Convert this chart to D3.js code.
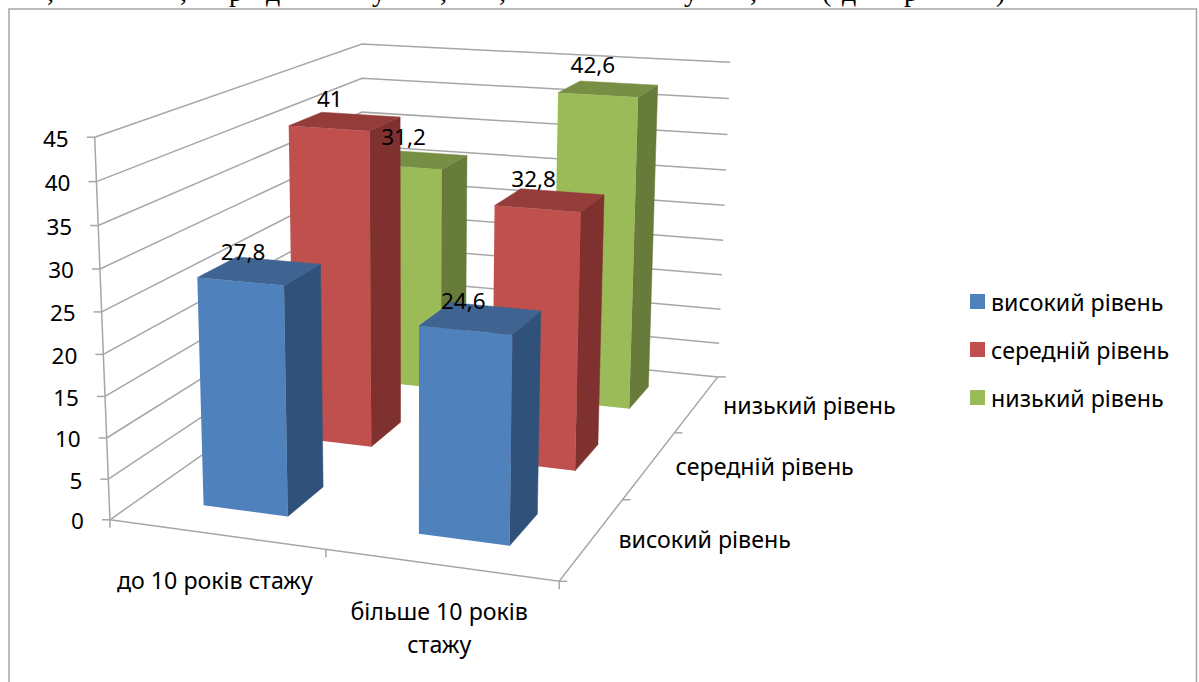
<!DOCTYPE html>
<html>
<head>
<meta charset="utf-8">
<script src="https://cdn.jsdelivr.net/npm/d3@7"></script>
<style>
    html, body { margin: 0; padding: 0; background: #fff; overflow: hidden; }
    text { font-family: "Noto Sans", sans-serif; font-size: 23.2px; fill: #000; }
    text.num { font-size: 22.5px; }
    text.doc-line { font-family: "Liberation Serif", serif; font-size: 28px; }
</style>
</head>
<body>
<svg id="chart" width="1199" height="682"></svg>
<script>
const categories = ['до 10 років стажу', 'більше 10 років стажу'];
const seriesNames = ['високий рівень', 'середній рівень', 'низький рівень'];
const highValues = [27.8, 24.6];
const middleValues = [41, 32.8];
const lowValues = [31.2, 42.6];
const valueTicks = [0, 5, 10, 15, 20, 25, 30, 35, 40, 45];

const seriesValues = [highValues, middleValues, lowValues];
const frontColors = ['#4f81bd', '#c0504d', '#9bbb59'];
const sideColors = ['#30527a', '#7f3130', '#677b3a'];
const topColors = ['#3f6491', '#933c3a', '#778f45'];

// only the feet of the line of document text above the chart are visible
const docLineGlyphs = ',,рду,,у,(др)';
const docLineX = [47, 180, 229, 266, 372, 440, 499, 684, 750, 822, 842, 904, 996];

// calibration points: [x, z, value 0-1] -> [px, py]
const calibration = [
    // box corners
    [[0, 0, 0], [110, 519.5]],
    [[1, 0, 0], [558.5, 581.5]],
    [[1, 1, 0], [718, 377]],
    [[0, 0, 1], [94.5, 137]],
    [[0, 1, 1], [361.6, 44]],
    [[1, 1, 1], [731, 62.7]],
    // bar corners
    [[0.15, 0.1, 0], [203.6, 505.7]],
    [[0.35, 0.1, 0], [288, 516.7]],
    [[0.65, 0.1, 0], [419, 534.3]],
    [[0.85, 0.1, 0], [510, 546]],
    [[0.35, 0.4333, 0], [371, 446.7]],
    [[0.85, 0.4333, 0], [575, 470.7]],
    [[0.85, 0.7667, 0], [629, 408]],
    [[0.15, 0.1, 27.8 / 45], [198, 278]],
    [[0.35, 0.1, 27.8 / 45], [284, 285.7]],
    [[0.65, 0.1, 24.6 / 45], [419, 326]],
    [[0.85, 0.1, 24.6 / 45], [512, 334]],
    [[0.15, 0.4333, 41 / 45], [289, 125.7]],
    [[0.35, 0.4333, 41 / 45], [369, 130.7]],
    [[0.65, 0.4333, 32.8 / 45], [495, 205]],
    [[0.85, 0.4333, 32.8 / 45], [581, 211.7]],
    [[0.65, 0.7667, 42.6 / 45], [558, 93]],
    [[0.85, 0.7667, 42.6 / 45], [637.5, 97.7]]
];

// least squares fit of the camera matrix
function solveCamera(points) {
    const rows = [], rhs = [];
    points.forEach(([[x, z, v], [px, py]]) => {
        rows.push([x, z, v, 1, 0, 0, 0, 0, -px * x, -px * z, -px * v]);
        rhs.push(px);
        rows.push([0, 0, 0, 0, x, z, v, 1, -py * x, -py * z, -py * v]);
        rhs.push(py);
    });
    const n = 11;
    const m = d3.range(n).map(i => d3.range(n + 1).map(j =>
        d3.sum(rows, (r, k) => r[i] * (j < n ? r[j] : rhs[k]))));
    for (let i = 0; i < n; i++) {
        let best = i;
        for (let k = i + 1; k < n; k++) if (Math.abs(m[k][i]) > Math.abs(m[best][i])) best = k;
        [m[i], m[best]] = [m[best], m[i]];
        for (let k = 0; k < n; k++) {
            if (k === i) continue;
            const f = m[k][i] / m[i][i];
            for (let j = i; j <= n; j++) m[k][j] -= f * m[i][j];
        }
    }
    return m.map((row, i) => row[n] / row[i]);
}

const cam = solveCamera(calibration);

function project(x, z, v) {
    const w = cam[8] * x + cam[9] * z + cam[10] * v + 1;
    return [
        (cam[0] * x + cam[1] * z + cam[2] * v + cam[3]) / w,
        (cam[4] * x + cam[5] * z + cam[6] * v + cam[7]) / w
    ];
}

const xScale = d3.scaleBand().domain(categories).range([0, 1]).paddingInner(0.6).paddingOuter(0.3);
const zScale = d3.scaleBand().domain(seriesNames).range([0, 1]).paddingInner(0.6).paddingOuter(0.3);
const vScale = d3.scaleLinear().domain([0, 45]).range([0, 1]);

const line = d3.line();
const closed = pts => line(pts) + 'Z';

const svg = d3.select('#chart');

svg.append('text')
    .attr('class', 'doc-line')
    .attr('x', docLineX.join(' '))
    .attr('y', 1)
    .text(docLineGlyphs);

// outer chart frame, runs off the bottom of the picture
svg.append('path')
    .attr('d', line([[9, 690], [9, 9], [1196.5, 9], [1196.5, 690]]))
    .attr('fill', '#fff')
    .attr('stroke', '#a6a6a6')
    .attr('stroke-width', 1.5);

const gridColor = '#a6a6a6';
const axisG = svg.append('g').attr('fill', 'none').attr('stroke', gridColor).attr('stroke-width', 1.5);

// gridlines along the left and back walls
axisG.selectAll('.grid')
    .data(valueTicks)
    .join('path')
    .attr('class', 'grid')
    .attr('d', d => line([project(0, 0, vScale(d)), project(0, 1, vScale(d)), project(1, 1, vScale(d))]));

// axis lines
axisG.append('path').attr('d', line([project(0, 0, 0), project(0, 0, 1)]));
axisG.append('path').attr('d', line([project(0, 0, 0), project(1, 0, 0), project(1, 1, 0)]));

// value ticks
axisG.selectAll('.vtick')
    .data(valueTicks)
    .join('path')
    .attr('class', 'vtick')
    .attr('d', d => {
        const p = project(0, 0, vScale(d));
        return line([p, [p[0] - 8, p[1]]]);
    });

// category ticks
axisG.selectAll('.xtick')
    .data([0, 0.5, 1])
    .join('path')
    .attr('class', 'xtick')
    .attr('d', d => {
        const p = project(d, 0, 0);
        return line([p, [p[0], p[1] + 8]]);
    });

// depth ticks
axisG.selectAll('.ztick')
    .data([0, 1 / 3, 2 / 3, 1])
    .join('path')
    .attr('class', 'ztick')
    .attr('d', d => {
        const p = project(1, d, 0);
        return line([p, [p[0] + 8, p[1]]]);
    });

// bars, back row first so the front ones cover them
const bars = [];
seriesNames.forEach((s, si) => {
    categories.forEach((c, ci) => {
        bars.push({ series: s, si, category: c, value: seriesValues[si][ci] });
    });
});
bars.sort((a, b) => b.si - a.si);

const barG = svg.selectAll('.bar')
    .data(bars)
    .join('g')
    .attr('class', 'bar');

function box(d) {
    const x0 = xScale(d.category), x1 = x0 + xScale.bandwidth();
    const z0 = zScale(d.series), z1 = z0 + zScale.bandwidth();
    return { x0, x1, z0, z1, v: vScale(d.value) };
}

barG.append('path')
    .attr('fill', d => sideColors[d.si])
    .attr('stroke', d => sideColors[d.si])
    .attr('stroke-width', 0.5)
    .attr('d', d => {
        const b = box(d);
        return closed([project(b.x1, b.z0, 0), project(b.x1, b.z1, 0), project(b.x1, b.z1, b.v), project(b.x1, b.z0, b.v)]);
    });

barG.append('path')
    .attr('fill', d => topColors[d.si])
    .attr('stroke', d => topColors[d.si])
    .attr('stroke-width', 0.5)
    .attr('d', d => {
        const b = box(d);
        return closed([project(b.x0, b.z0, b.v), project(b.x1, b.z0, b.v), project(b.x1, b.z1, b.v), project(b.x0, b.z1, b.v)]);
    });

barG.append('path')
    .attr('fill', d => frontColors[d.si])
    .attr('d', d => {
        const b = box(d);
        return closed([project(b.x0, b.z0, 0), project(b.x1, b.z0, 0), project(b.x1, b.z0, b.v), project(b.x0, b.z0, b.v)]);
    });

// data labels on top of everything, they drift towards the middle of the plot
const labelPoint = d => project(xScale(d.category) + xScale.bandwidth() / 2, zScale(d.series), vScale(d.value));
svg.selectAll('.data-label')
    .data(bars)
    .join('text')
    .attr('class', 'data-label num')
    .attr('text-anchor', 'middle')
    .attr('dominant-baseline', 'central')
    .attr('x', d => labelPoint(d)[0] - (labelPoint(d)[0] - 370) * 0.022)
    .attr('y', d => labelPoint(d)[1] - 30)
    .text(d => String(d.value).replace('.', ','));

// value axis labels
svg.selectAll('.v-label')
    .data(valueTicks)
    .join('text')
    .attr('class', 'v-label num')
    .attr('text-anchor', 'end')
    .attr('dominant-baseline', 'central')
    .attr('x', d => project(0, 0, vScale(d))[0] - 26)
    .attr('y', d => project(0, 0, vScale(d))[1] + 1)
    .text(d => d);

// category labels, the long one wraps
const categoryLines = [['до 10 років стажу'], ['більше 10 років', 'стажу']];
const catLabel = svg.selectAll('.x-label')
    .data(categories)
    .join('text')
    .attr('class', 'x-label')
    .attr('text-anchor', 'middle');
catLabel.selectAll('tspan')
    .data((d, i) => categoryLines[i].map((t, k) => ({ t, k, p: project(xScale(d) + xScale.bandwidth() / 2, 0, 0) })))
    .join('tspan')
    .attr('x', d => d.p[0] - 1)
    .attr('y', d => d.p[1] + 55 + d.k * 33)
    .text(d => d.t);

// depth axis labels
svg.selectAll('.z-label')
    .data(seriesNames)
    .join('text')
    .attr('class', 'z-label')
    .attr('dominant-baseline', 'central')
    .attr('x', d => project(1, zScale(d) + zScale.bandwidth() / 2, 0)[0] + 26)
    .attr('y', d => project(1, zScale(d) + zScale.bandwidth() / 2, 0)[1] + 1)
    .text(d => d);

// legend
const legendY = d3.scalePoint().domain(seriesNames).range([302, 398]);
const legend = svg.selectAll('.legend')
    .data(seriesNames)
    .join('g')
    .attr('class', 'legend')
    .attr('transform', d => `translate(970,${legendY(d)})`);
legend.append('rect')
    .attr('y', -8)
    .attr('width', 15)
    .attr('height', 15)
    .attr('fill', (d, i) => frontColors[i]);
legend.append('text')
    .attr('x', 21)
    .attr('dominant-baseline', 'central')
    .text(d => d);
</script>
</body>
</html>
